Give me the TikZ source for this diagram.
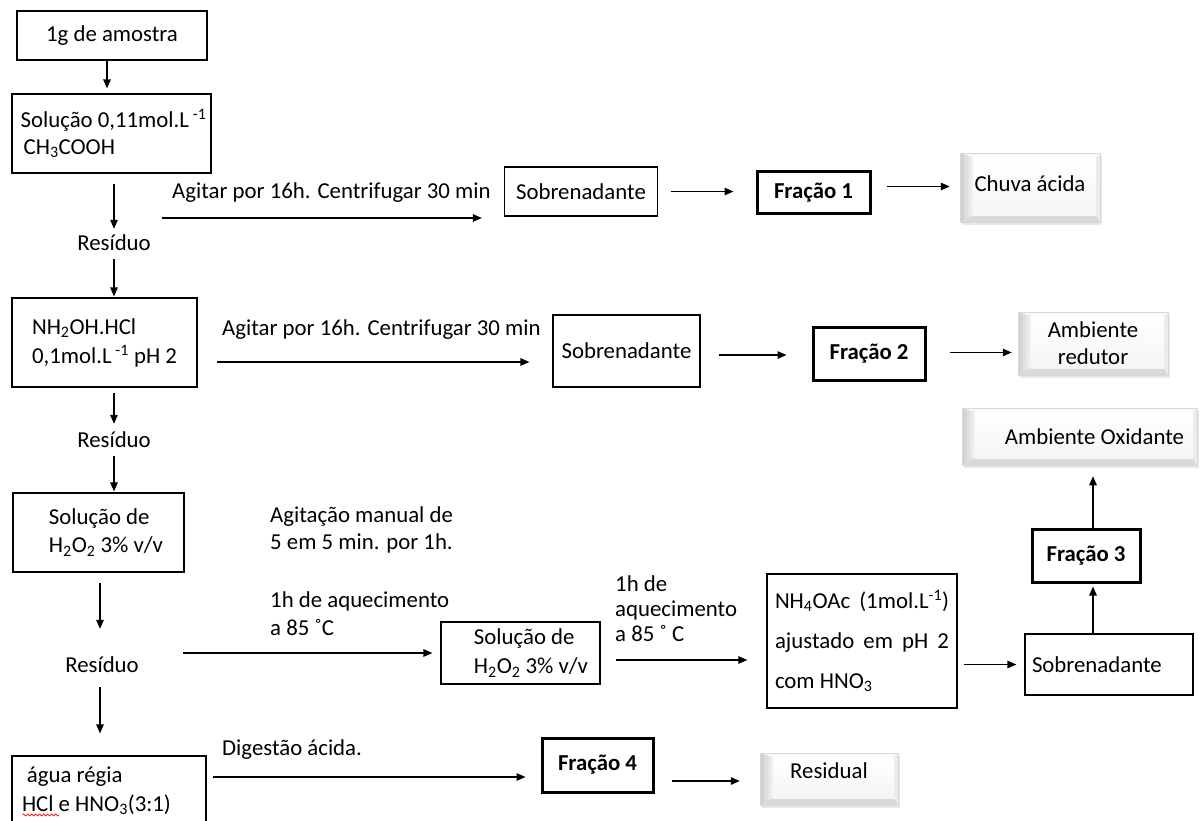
\documentclass[tikz,border=0pt]{standalone}
\usepackage{fontspec}
\setmainfont{Carlito}
\usetikzlibrary{arrows.meta,shadows,decorations.pathmorphing}
\newcommand\fsz{\fontsize{22.8}{27}\selectfont}
\begin{document}
\begin{tikzpicture}[x=1pt,y=-1pt,
  box/.style={draw, line width=1.2pt, inner sep=0pt, font=\fsz, align=left},
  frbox/.style={draw, line width=3pt, inner sep=0pt, font=\fsz\bfseries},
  txt/.style={inner sep=0pt, anchor=west, align=left, font=\fsz},
  res/.style={inner sep=0pt, font=\fsz},
  arr/.style={line width=1.3pt, -{Triangle[length=9pt,width=7.5pt]}},
  bev/.style={inner sep=0pt, font=\fsz, align=center, draw=gray!30, line width=0.5pt,
    fill=white,
    drop shadow={shadow xshift=2pt, shadow yshift=-3pt, fill=gray!50, opacity=0.35},
    path picture={
      \path (path picture bounding box.north west) coordinate (pNW)
            (path picture bounding box.south east) coordinate (pSE)
            (path picture bounding box.south west) coordinate (pSW)
            (path picture bounding box.north east) coordinate (pNE);
      \fill[gray!10] (pSW) rectangle (pNE);
      \shade[left color=gray!40, right color=gray!8] (pNW) -- (pSW) -- ([shift={(13pt,7pt)}]pSW) -- ([shift={(13pt,-4pt)}]pNW) -- cycle;
      \fill[gray!30] (pSW) -- (pSE) -- ([shift={(-4pt,7pt)}]pSE) -- ([shift={(13pt,7pt)}]pSW) -- cycle;
      \fill[gray!15] (pNE) -- (pSE) -- ([shift={(-4pt,7pt)}]pSE) -- ([shift={(-4pt,-4pt)}]pNE) -- cycle;
      \fill[gray!5] (pNW) -- (pNE) -- ([shift={(-4pt,-4pt)}]pNE) -- ([shift={(13pt,-4pt)}]pNW) -- cycle;
      \shade[top color=white, bottom color=gray!8] ([shift={(13pt,7pt)}]pSW) rectangle ([shift={(-4pt,-4pt)}]pNE);
    }}
]
\useasboundingbox (0,0) rectangle (1201,821);
\clip (0,0) rectangle (1201,821);
\fill[white] (0,0) rectangle (1201,821);

% left column
\node[box, align=center, minimum width=190, minimum height=49] (b1) at (112,35.5) {1g de amostra};
\node[box, minimum width=199, minimum height=79] (b2) at (111.5,133.5)
  {\hspace*{4pt}Solução 0,11mol.L\,\textsuperscript{-1}\\\hspace*{7pt}CH\textsubscript{3}COOH};
\node[res] (r1) at (114,243) {Resíduo};
\node[box, minimum width=185, minimum height=89, font=\fontsize{22.8}{29}\selectfont] (b3) at (104.5,342.5)
  {NH\textsubscript{2}OH.HCl\\0,1mol.L\,\textsuperscript{-1} pH 2};
\node[res] (r2) at (114,440) {Resíduo};
\node[box, minimum width=171, minimum height=79, font=\fontsize{22.8}{28}\selectfont] (b4) at (98.5,532.5)
  {\hspace*{15pt}Solução de\\\hspace*{15pt}H\textsubscript{2}O\textsubscript{2} 3\% v/v};
\node[res] (r3) at (102,665) {Resíduo};
\node[box, minimum width=194, minimum height=70, text width=174, align=flush left, font=\fontsize{22.8}{29}\selectfont] (b5) at (109,791)
  {\hspace*{5pt}água régia\\HCl e HNO\textsubscript{3}(3:1)};
\draw[red, line width=0.6pt, decorate, decoration={snake, amplitude=1pt, segment length=4pt}]
  ([shift={(11pt,-24pt)}]b5.west) -- ([shift={(48pt,-24pt)}]b5.west);

% row 1
\node[txt] (l1) at (172,193) {Agitar por 16h. Centrifugar 30 min};
\node[box, align=center, minimum width=153, minimum height=49] (s1) at (581,191.5) {Sobrenadante};
\node[frbox, minimum width=113, minimum height=41] (f1) at (813.5,192.5) {Fração 1};
\node[bev, minimum width=140, minimum height=69] (c1) at (1030,187.5) {\raisebox{8pt}{Chuva ácida}};

% row 2
\node[txt] (l2) at (222,330) {Agitar por 16h. Centrifugar 30 min};
\node[box, align=center, minimum width=147, minimum height=72] (s2) at (626.5,351) {\raisebox{-8pt}{Sobrenadante}};
\node[frbox, minimum width=112, minimum height=53] (f2) at (869,353.5) {Fração 2};
\node[bev, minimum width=150, minimum height=63, font=\fontsize{22.8}{27}\selectfont] (ar) at (1093,343.5) {Ambiente\\redutor};

% right column
\node[bev, minimum width=235, minimum height=57] (ao) at (1079.5,436.5) {\raisebox{-10pt}{\hspace*{30pt}Ambiente Oxidante}};
\node[frbox, minimum width=108, minimum height=53] (f3) at (1086,555.5) {Fração 3};
\node[box, minimum width=168, minimum height=61, text width=154, align=flush left] (s3) at (1109,664.5) {Sobrenadante};

% row 3
\node[txt] (l3) at (270,530) {Agitação manual de\\5 em 5 min. por 1h.};
\node[txt, font=\fontsize{22.8}{28}\selectfont] (l4) at (270,614) {1h de aquecimento\\a 85 ˚C};
\node[box, minimum width=159, minimum height=62, font=\fontsize{22.8}{29}\selectfont] (sol) at (520.5,653)
  {\hspace*{21pt}Solução de\\\hspace*{21pt}H\textsubscript{2}O\textsubscript{2} 3\% v/v};
\node[txt, font=\fontsize{22.8}{25}\selectfont] (l5) at (615,609) {1h de\\aquecimento\\a 85 ˚ C};
\node[box, minimum width=190, minimum height=134, text width=174, align=flush left, font=\fontsize{22.8}{40}\selectfont] (nh) at (862,641)
  {NH\textsubscript{4}OAc\hfill(1mol.L\textsuperscript{-1})\\ajustado\hfill em\hfill pH\hfill 2\\com HNO\textsubscript{3}};

% row 4
\node[txt] (l6) at (222,750) {Digestão ácida.};
\node[frbox, minimum width=111, minimum height=54] (f4) at (597.5,765) {Fração 4};
\node[bev, minimum width=138, minimum height=52] (rs) at (829,779) {\raisebox{16pt}{Residual}};

% vertical chain
\draw[arr, shorten >=5pt] ([xshift=-5pt]b1.south) -- ([xshift=-5pt]b1.south |- b2.north);
\draw[arr, shorten <=10pt, shorten >=6pt] (r1.north |- b2.south) -- (r1.north);
\draw[arr, shorten <=8pt, shorten >=1pt] (r1.south) -- (r1.south |- b3.north);
\draw[arr, shorten <=5pt, shorten >=8pt] (r2.north |- b3.south) -- (r2.north);
\draw[arr, shorten <=8pt, shorten >=1pt] (r2.south) -- (r2.south |- b4.north);
\draw[arr, shorten <=10pt, shorten >=28pt] ([xshift=-2pt]r3.north |- b4.south) -- ([xshift=-2pt]r3.north);
\draw[arr, shorten <=14pt, shorten >=22pt] ([xshift=-2pt]r3.south) -- ([xshift=-2pt]r3.south |- b5.north);

% row 1 arrows
\coordinate (a1) at (162,218);
\draw[arr, shorten >=22pt] (a1) -- (a1 -| s1.west);
\draw[arr, shorten <=13pt, shorten >=22pt] (s1.east) -- (s1.east -| f1.west);
\draw[arr, shorten <=15pt, shorten >=10pt] ([yshift=1pt]c1.west -| f1.east) -- ([yshift=1pt]c1.west);

% row 2 arrows
\coordinate (a2) at (217,362);
\draw[arr, shorten >=23pt] (a2) -- (a2 -| s2.west);
\draw[arr, shorten <=18pt, shorten >=25pt] ([yshift=-4pt]s2.east) -- ([yshift=-4pt]s2.east -| f2.west);
\draw[arr, shorten <=23pt, shorten >=6pt] ([yshift=-9pt]ar.west -| f2.east) -- ([yshift=-9pt]ar.west);

% row 3 arrows
\coordinate (a3) at (183,653);
\draw[arr, shorten >=8pt] (a3) -- (a3 -| sol.west);
\draw[arr, shorten <=15pt, shorten >=19pt] ([yshift=-7pt]sol.east) -- ([yshift=-7pt]sol.east -| nh.west);
\draw[arr, shorten <=6pt, shorten >=8pt] (s3.west -| nh.east) -- (s3.west);
\draw[arr, shorten >=3pt] ([xshift=-16pt]s3.north) -- ([xshift=-16pt]s3.north |- f3.south);
\draw[arr, shorten >=11pt] ([xshift=7pt]f3.north) -- ([xshift=7pt]f3.north |- ao.south);

% row 4 arrows
\coordinate (a4) at (213,777);
\draw[arr, shorten >=15pt] (a4) -- (a4 -| f4.west);
\draw[arr, shorten <=17pt, shorten >=20pt] ([yshift=-2pt]rs.west -| f4.east) -- ([yshift=-2pt]rs.west);
\end{tikzpicture}
\end{document}
